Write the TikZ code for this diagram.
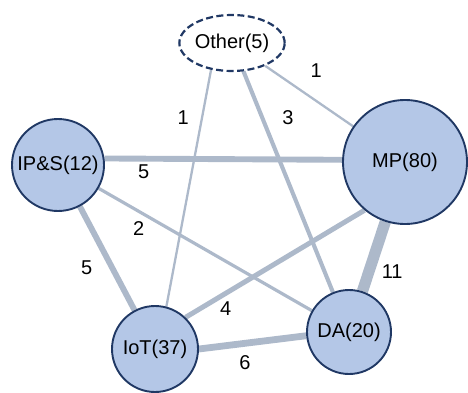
\documentclass[tikz,border=0pt]{standalone}
\usepackage{fontspec}
\setmainfont{Liberation Sans}
\usetikzlibrary{shapes.geometric, backgrounds}
\definecolor{topicfill}{RGB}{180,199,231}
\definecolor{topicline}{RGB}{32,56,100}
\definecolor{linkcol}{RGB}{173,185,202}
\tikzset{
	topic/.style = {circle, draw=topicline, line width=1.9pt, fill=topicfill, inner sep=0pt,
			font=\fontsize{20}{24}\selectfont},
	misc/.style = {ellipse, draw=topicline, line width=2.2pt, dash pattern=on 7pt off 3.5pt,
			fill=white, inner sep=0pt, minimum width=104pt, minimum height=56pt,
			font=\fontsize{20}{24}\selectfont},
	link/.style = {draw=linkcol, line width={0.9pt*#1+1.4pt}},
	lbl/.style = {inner sep=0pt, font=\fontsize{20}{24}\selectfont}
}

\begin{document}
\begin{tikzpicture}[x=1pt, y=-1pt]
					\useasboundingbox (0,0) rectangle (468,393);
					% ====== Topics ========
					\node[misc] (other) at (232,43) {Other(5)};
					\node[topic, minimum size=92pt] (ips) at (58,165) {IP\&S(12)};
					\node[topic, minimum size=124pt] (mp) at (405,162) {MP(80)};
					\node[topic, minimum size=86pt] (iot) at (155,349) {IoT(37)};
					\node[topic, minimum size=84pt] (da) at (349,332) {DA(20)};
					% ====== Links ========
					\begin{pgfonlayer}{background}
						\draw[link=1] (other) -- (mp) node[lbl, pos=0.42, shift={(14,-21)}] (w1) {1};
						\draw[link=1] (other.232) -- (iot.75) node[lbl, pos=0.22, shift={(-18,-4)}] (w2) {1};
						\draw[link=3] (other) -- (da) node[lbl, pos=0.25, shift={(22,-9)}] (w3) {3};
						\draw[link=5] (ips.8) -- (mp.178) node[lbl, pos=0.165, shift={(0,13)}] (w4) {5};
						\draw[link=2] (ips) -- (da) node[lbl, pos=0.22, shift={(-7,13)}] (w5) {2};
						\draw[link=5] (ips) -- (iot) node[lbl, pos=0.49, shift={(-20,10)}] (w6) {5};
						\draw[link=4] (mp.230) -- (iot.46) node[lbl, pos=0.815, shift={(7,11)}] (w7) {4};
						\draw[link=11] (mp) -- (da) node[lbl, pos=0.62, shift={(21,7)}] (w8) {11};
						\draw[link=6] (iot.0) -- (da.185) node[lbl, pos=0.41, shift={(2,19)}] (w9) {6};
					\end{pgfonlayer}
				\end{tikzpicture}
\end{document}
